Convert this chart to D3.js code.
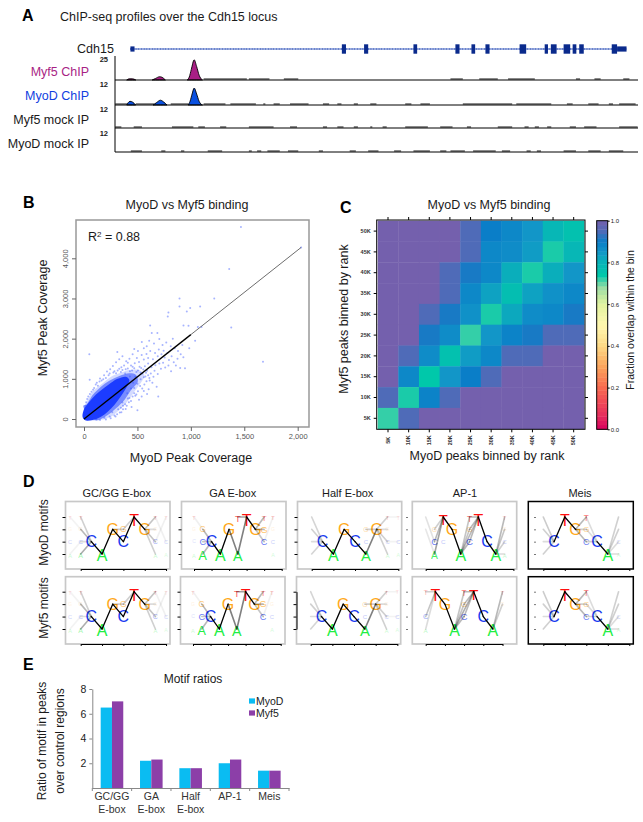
<!DOCTYPE html>
<html><head><meta charset="utf-8">
<script src="https://cdn.jsdelivr.net/npm/d3@7"></script>
<style>html,body{margin:0;padding:0;background:#fff}svg{display:block}text{font-family:"Liberation Sans",Arial,sans-serif;fill:#1a1a1a}</style>
</head><body><svg id="c" width="643" height="822"></svg>
<script>
// ---------- A: locus data (arbitrary locus units)
const locusExons=[[831,841],[885,895],[1005,1014],[1107,1117],[1146,1155],[1180,1190],[1263,1279],[1324,1332],[1339,1353],[1370,1386],[1392,1401],[1408,1419],[1487,1500]];
const locusUtrs=[[317,327],[1500,1523]];
const geneSpan=[317,1523];
const myf5Peaks=[[[308,0],[314,1.2],[322,1.2],[330,0]],[[370,0],[378,1.6],[388,3.4],[394,2.8],[402,0]],[[455,0],[460,3],[465,11],[472,21],[478,14],[484,5],[492,0]]];
const myodPeaks=[[[308,0],[316,2],[322,1.6],[330,0]],[[372,0],[380,1.2],[390,2.6],[398,1.6],[406,0]],[[457,0],[462,2],[467,6],[472,9.2],[478,6],[484,2],[492,0]]];
const noiseMyf5=[[495,600],[605,655],[690,725],[1095,1125],[1165,1210],[1235,1300],[1400,1410],[1445,1460],[1515,1530]];
const noiseMyoD=[[280,315],[330,375],[415,458],[495,548],[560,622],[640,645],[665,680],[705,750],[785,800],[820,830],[860,870],[900,915],[985,1000],[1022,1045],[1125,1245],[1255,1340],[1378,1392],[1430,1455],[1480,1490],[1505,1545]];
const noiseMockMyf5=[[280,295],[325,345],[418,470],[482,498],[535,550],[605,665],[705,722],[785,795],[820,835],[860,870],[900,905],[930,940],[985,1040],[1070,1100],[1135,1145],[1210,1245],[1275,1285],[1300,1310],[1330,1340],[1385,1400],[1420,1450],[1505,1550]];
const noiseMockMyoD=[[318,345],[392,402],[440,448],[505,540],[605,612],[625,635],[650,680],[700,725],[775,785],[850,865],[895,920],[958,975],[1005,1045],[1070,1085],[1095,1130],[1150,1205],[1220,1240],[1280,1290],[1305,1315],[1370,1400],[1430,1460],[1480,1515]];
const trackNames=["Myf5 ChIP","MyoD ChIP","Myf5 mock IP","MyoD mock IP"];
const trackMax=["25","12","12","12"];

// ---------- B: scatter data
const fitLineDark=[[0,0],[1000,2100]];
const fitLineLight=[[1000,2100],[2032,4270]];
const cloudCore=[[-12,40],[-5,207],[44,410],[112,610],[190,775],[253,900],[315,1000],[393,1050],[424,970],[393,763],[347,572],[284,348],[222,182],[159,58],[81,-25],[20,-40]];
const cloudMid=[[-8,330],[19,348],[81,597],[159,804],[237,953],[331,1070],[425,1136],[487,1095],[503,929],[440,721],[378,473],[300,265],[222,99],[112,-30]];
const cloudHalo=[[-5,224],[34,473],[81,680],[175,887],[253,1053],[331,1136],[425,1219],[518,1219],[565,1095],[549,970],[471,680],[393,390],[331,224],[253,58],[159,-20],[50,-20]];
const scatterPts=[[1469,4776],[1359,3731],[2032,4270],[894,3002],[894,2803],[1219,3002],[1087,2803],[994,2761],[962,2678],[790,2653],[784,2554],[1378,2280],[931,2330],[978,2322],[1066,2289],[1675,1426],[50,1609],[53,978],[312,1667],[619,2330],[687,2139],[831,1998],[634,2139],[541,1915],[587,1808],
[470,1740],[505,1690],[560,1760],[610,1950],[655,1880],[705,1990],[735,1840],[770,1905],[812,1810],[850,1760],[880,1690],[905,1610],[930,1540],[875,1500],[820,1560],[780,1640],[745,1700],[700,1730],[665,1640],[620,1690],[585,1620],[540,1590],[495,1520],[455,1610],[425,1500],[395,1440],[360,1560],[330,1490],[300,1410],[270,1320],[245,1240],[215,1180],[188,1090],[150,1010],[120,900],
[440,1330],[475,1390],[515,1420],[560,1480],[600,1520],[645,1490],[690,1560],[725,1610],[755,1530],[795,1470],[840,1410],[900,1270],[945,1265],[860,1330],[790,1330],[740,1400],[705,1380],[668,1340],[632,1290],[600,1380],[570,1310],[535,1270],[590,1200],[625,1130],[660,1200],[690,1120],[720,1250],[650,1050],[612,1020],[585,940],[640,900],[680,800],[695,560],[605,740],[560,700],[525,820],[500,215],[420,420],[455,560],[490,610],[515,480],[445,300],[390,250],[350,170],[310,120],[285,90],[365,330],[410,510],[540,560],[590,620],[470,770],[500,880],[530,990],[480,1050],[575,1060],[545,1130],[505,1210],[470,1265],
[330,1250],[375,1330],[410,1400],[285,1190],[350,1290],[390,1240],[430,1190],[300,1140],[230,1090],[205,1020],[165,960],[130,830],[95,770],[70,680],[40,560],[20,420],[15,330],[60,0],[115,-10],[190,30],[240,60],[265,170],[320,240],[360,410],[405,640],[440,760],[460,900],[430,1060],[385,1130],[345,1170],[1100,2290],[760,1280],[815,1190],[920,1840],[985,1760],[1040,1950],
[275,1160],[240,1130],[180,990],[145,935],[110,860],[85,730],[55,620],[30,500],[12,270],[315,1210],[360,1220],[410,1260],[455,1300],[520,1300],[555,1230],[580,1150],[600,1090],[615,960],[565,860],[545,760],[505,690],[480,580],[440,450],[400,330],[365,240],[335,160],[295,60],[250,20],[205,-15],[150,-25],[450,1210],[490,1170],[530,1150],[560,1040],[470,640],[425,520],[385,370],[345,280]];

// ---------- C: heat-map data
const rankLabels=["5K","10K","15K","20K","25K","30K","35K","40K","45K","50K"];
const overlapRows=[ // top row = 50K, columns = 5K ... 50K
[1,1,1,1,.95,.9,.88,.85,.79,.76],
[1,1,1,1,.95,.88,.87,.84,.73,.79],
[1,1,1,.95,.91,.88,.81,.73,.81,.85],
[1,1,1,.95,.88,.83,.77,.83,.86,.88],
[1,1,.95,.91,.86,.73,.82,.87,.88,.91],
[1,1,.91,.87,.72,.85,.89,.91,.95,.95],
[1,.95,.87,.76,.84,.88,.95,.95,1,1],
[1,.88,.74,.85,.9,.95,1,1,1,1],
[.95,.73,.89,.95,1,1,1,1,1,1],
[.72,.95,1,1,1,1,1,1,1,1]];
const colorDomain=[0,.06,.13,.2,.3,.4,.5,.6,.68,.74,.8,.85,.9,.95,1];
const colorRange=["#d6005f","#e52b5e","#f04a58","#f86a50","#fca45c","#fed985","#fff8b0","#e2f3a0","#9bdca4","#00c8aa","#08b4b8","#1296c8","#0a7ec8","#4f6bb8","#7460ad"];
const colorTicks=[0,.2,.4,.6,.8,1];

// ---------- D: motif data: [position, base, weight]
const gcLetters=[[-1,"T",.06],[-1,"G",.03],[-1,"C",.1],[-1,"A",.1],[0,"T",.12],[0,"G",.08],[0,"C",.15],[0,"A",.22],[1,"C",1],[2,"A",1],[3,"G",1],[4,"C",1],[4,"G",.35],[5,"T",1],[6,"G",1],[7,"T",.14],[7,"G",.05],[7,"C",.22],[7,"A",.12],[8,"T",.06],[8,"C",.1],[8,"A",.06]];
const gcEdges=[[1,"C",2,"A",1],[2,"A",3,"G",1],[3,"G",4,"C",1],[4,"C",5,"T",.7],[5,"T",6,"G",1],[0,"T",1,"C",.2],[0,"G",1,"C",.3],[0,"C",1,"C",.15],[0,"A",1,"C",.35],[-1,"T",0,"G",.05],[-1,"A",0,"C",.05],[3,"G",4,"G",.2],[4,"G",5,"T",.2],[6,"G",7,"T",.25],[6,"G",7,"G",.15],[6,"G",7,"C",.25],[6,"G",7,"A",.2],[7,"C",8,"T",.06],[7,"T",8,"C",.06]];
const gaLetters=[[0,"T",.1],[0,"G",.04],[0,"C",.05],[0,"A",.1],[1,"G",.32],[1,"C",.4],[1,"A",.7],[2,"C",1],[3,"A",1],[4,"G",1],[5,"T",.42],[5,"A",.85],[6,"T",1],[7,"G",1],[8,"T",.3],[8,"G",.4],[8,"C",.4],[9,"T",.15],[9,"G",.05],[9,"C",.12],[9,"A",.08]];
const gaEdges=[[2,"C",3,"A",1],[3,"A",4,"G",1],[4,"G",5,"A",.55],[5,"A",6,"T",.55],[5,"T",6,"T",.4],[6,"T",7,"G",1],[1,"G",2,"C",.3],[1,"C",2,"C",.25],[1,"A",2,"C",.3],[7,"G",8,"T",.3],[7,"G",8,"G",.3],[7,"G",8,"C",.25],[0,"T",1,"G",.06],[8,"C",9,"T",.06]];
const halfLetters=[[1,"C",1],[2,"A",1],[3,"G",1],[4,"C",1],[5,"A",.9],[5,"C",.14],[5,"G",.2],[6,"G",1],[7,"T",.1],[7,"G",.06],[7,"C",.12],[7,"A",.1],[8,"T",.05],[8,"C",.12],[8,"A",.07]];
const halfEdges=[[1,"C",2,"A",1],[2,"A",3,"G",1],[3,"G",4,"C",1],[4,"C",5,"A",1],[5,"A",6,"G",.55],[5,"G",6,"G",.2],[0,"T",1,"C",.18],[0,"G",1,"C",.2],[0,"C",1,"C",.15],[0,"A",1,"C",.18],[6,"G",7,"T",.2],[6,"G",7,"G",.15],[6,"G",7,"C",.2],[6,"G",7,"A",.2],[7,"T",8,"T",.05],[7,"C",8,"C",.05]];
const ap1LettersD=[[1,"G",.2],[1,"C",.4],[1,"A",.5],[2,"T",.9],[2,"C",.15],[3,"G",1],[4,"A",1],[5,"T",.35],[5,"G",.3],[5,"C",.45],[6,"T",1],[7,"C",1],[8,"A",1],[9,"T",.12],[9,"G",.08],[9,"C",.12],[9,"A",.12]];
const ap1EdgesD=[[2,"T",3,"G",1],[3,"G",4,"A",1],[4,"A",5,"T",.25],[4,"A",5,"G",.25],[4,"A",5,"C",.3],[5,"T",6,"T",.3],[5,"G",6,"T",.3],[5,"C",6,"T",.3],[4,"A",6,"T",.3],[6,"T",7,"C",.8],[7,"C",8,"A",1],[1,"A",2,"T",.4],[1,"C",2,"T",.3],[1,"G",2,"T",.2],[0,"T",1,"C",.12],[0,"G",1,"A",.1],[8,"A",9,"T",.3],[8,"A",9,"G",.25],[8,"A",9,"C",.2],[8,"A",9,"A",.15]];
const ap1LettersF=[[0,"T",.18],[0,"C",.25],[0,"A",.15],[1,"T",1],[2,"G",1],[3,"A",1],[4,"T",.32],[4,"G",.3],[4,"C",.42],[5,"T",.95],[6,"C",1],[7,"A",1],[8,"T",.12],[8,"G",.05]];
const ap1EdgesF=[[1,"T",2,"G",1],[2,"G",3,"A",1],[3,"A",4,"T",.25],[3,"A",4,"G",.25],[3,"A",4,"C",.3],[4,"T",5,"T",.3],[4,"G",5,"T",.3],[4,"C",5,"T",.3],[3,"A",5,"T",.35],[5,"T",6,"C",.85],[6,"C",7,"A",1],[0,"T",1,"T",.2],[0,"C",1,"T",.25],[0,"A",1,"T",.15],[7,"A",8,"T",.3],[7,"A",8,"G",.2]];
const meisLetters=[[1,"C",1],[2,"T",1],[3,"G",1],[4,"T",.32],[4,"G",.3],[4,"C",.38],[5,"C",1],[6,"A",1],[7,"C",.1],[7,"A",.08]];
const meisEdges=[[1,"C",2,"T",1],[2,"T",3,"G",1],[3,"G",4,"T",.3],[3,"G",4,"G",.2],[3,"G",4,"C",.3],[4,"T",5,"C",.15],[4,"G",5,"C",.15],[4,"C",5,"C",.2],[5,"C",6,"A",1],[0,"T",1,"C",.22],[0,"G",1,"C",.2],[0,"C",1,"C",.15],[0,"A",1,"C",.2],[6,"A",7,"T",.2],[6,"A",7,"G",.2],[6,"A",7,"C",.15],[6,"A",7,"A",.15]];
const motifTitles=["GC/GG E-box","GA E-box","Half E-box","AP-1","Meis"];
const rowLabels=["MyoD motifs","Myf5 motifs"];
const bases=["A","C","G","T"];
const baseColors=["#22ee44","#1a3cf0","#ffa91c","#ff1010"];

// ---------- E: bar data
const ratioCategories=[["GC/GG","E-box"],["GA","E-box"],["Half","E-box"],["AP-1"],["Meis"]];
const ratioMyoD=[6.5,2.2,1.6,2.0,1.4];
const ratioMyf5=[7.0,2.3,1.6,2.3,1.4];
const ratioTicks=[2,4,6,8];

// ---------- drawing
const svg=d3.select("#c");
function txt(g,x,y,s,size,o={}){const t=g.append("text").attr("x",x).attr("y",y).attr("font-size",size).text(s);
  if(o.anchor)t.attr("text-anchor",o.anchor);if(o.bold)t.attr("font-weight","bold");if(o.fill)t.style("fill",o.fill);
  if(o.rot!==undefined)t.attr("transform",`rotate(${o.rot} ${x} ${y})`);return t;}
[["A",22,21],["B",23,208],["C",340,213],["D",23,487],["E",23,670]].forEach(d=>txt(svg,d[1],d[2],d[0],16,{bold:true,fill:"#000"}));

// A
const loc=d3.scaleLinear([0,1563],[0,643]);
txt(svg,60,21,"ChIP-seq profiles over the Cdh15 locus",12.5);
txt(svg,77,53,"Cdh15",12.5);
const gY=49;
svg.append("line").attr("x1",loc(geneSpan[0])).attr("x2",loc(geneSpan[1])).attr("y1",gY).attr("y2",gY).attr("stroke","#3a5cc0").attr("stroke-width",1);
svg.append("line").attr("x1",loc(geneSpan[0])).attr("x2",loc(geneSpan[1])).attr("y1",gY).attr("y2",gY).attr("stroke","#3a5ab8").attr("stroke-width",2.2).attr("stroke-dasharray","0.5 2.2");
svg.selectAll(".ex").data(locusExons).join("rect").attr("x",d=>loc(d[0])).attr("width",d=>loc(d[1])-loc(d[0])).attr("y",gY-4.7).attr("height",9.4).attr("fill","#0a2a8c");
svg.selectAll(".ut").data(locusUtrs).join("rect").attr("x",d=>loc(d[0])).attr("width",d=>loc(d[1])-loc(d[0])).attr("y",gY-2.6).attr("height",5.2).attr("fill","#0a2a8c");
const trackBase=[80,105,128,152], trackPx=[.96,1.84,1.84,1.84];
const trackFill=["#a81f85","#0a50e0"], nameColors=["#a81f85","#1040e0","#1a1a1a","#1a1a1a"];
const nameY=[76,100,124,148], maxY=[62,87,112,136];
[noiseMyf5,noiseMyoD,noiseMockMyf5,noiseMockMyoD].forEach((n,i)=>{
  svg.append("g").selectAll("rect").data(n).join("rect").attr("x",d=>loc(d[0])).attr("width",d=>loc(d[1])-loc(d[0])).attr("y",trackBase[i]-2).attr("height",2).attr("fill","#8a8a8a");
  txt(svg,89,nameY[i],trackNames[i],12.5,{anchor:"end",fill:nameColors[i]});
  txt(svg,108,maxY[i],trackMax[i],7.5,{anchor:"end",bold:true});
});
[myf5Peaks,myodPeaks].forEach((ps,i)=>{
  const y=d3.scaleLinear([0,1],[trackBase[i],trackBase[i]-trackPx[i]]);
  const area=d3.area().x(d=>loc(d[0])).y0(trackBase[i]).y1(d=>y(d[1])).curve(d3.curveMonotoneX);
  svg.append("g").selectAll("path").data(ps).join("path").attr("d",area).attr("fill",trackFill[i]).attr("stroke","#000").attr("stroke-width",.9);
});
trackBase.forEach(b=>svg.append("line").attr("x1",115).attr("x2",638).attr("y1",b).attr("y2",b).attr("stroke","#000").attr("stroke-width",1));
svg.append("line").attr("x1",115).attr("x2",115).attr("y1",56).attr("y2",152).attr("stroke","#000");

// B
const bx=d3.scaleLinear([0,2000],[84,297.7]), by=d3.scaleLinear([0,4000],[419,258.3]);
const bg=svg.append("g");
bg.append("rect").attr("x",76).attr("y",220).attr("width",233).attr("height",207).attr("fill","#fff").attr("stroke","#999").attr("stroke-width",1.5);
const poly=d3.line().x(d=>bx(d[0])).y(d=>by(d[1])).curve(d3.curveCatmullRomClosed);
bg.append("path").attr("d",poly(cloudHalo)).attr("fill","#3c5cff").attr("opacity",.22);
bg.selectAll("circle").data(scatterPts).join("circle").attr("cx",d=>bx(d[0])).attr("cy",d=>by(d[1])).attr("r",1).attr("fill","#3c58ff").attr("opacity",.45);
bg.append("path").attr("d",poly(cloudMid)).attr("fill","#2a48ff").attr("opacity",.55);
bg.append("path").attr("d",poly(cloudCore)).attr("fill","#1c3cff");
const fit=d3.line().x(d=>bx(d[0])).y(d=>by(d[1]));
bg.append("path").attr("d",fit(fitLineLight)).attr("stroke","#333").attr("stroke-width",.9).attr("opacity",.8).attr("fill","none");
bg.append("path").attr("d",fit(fitLineDark)).attr("stroke","#000").attr("stroke-width",1.3).attr("fill","none");
const bxa=svg.append("g").attr("transform","translate(0,427)").call(d3.axisBottom(bx).tickValues([0,500,1000,1500,2000]).tickFormat(d3.format(",")).tickSize(4));
const bya=svg.append("g").attr("transform","translate(76,0)").call(d3.axisLeft(by).tickValues([0,1000,2000,3000,4000]).tickFormat(d3.format(",")).tickSize(4));
[bxa,bya].forEach(a=>{a.select(".domain").remove();a.selectAll("line").attr("stroke","#666");a.selectAll("text").attr("font-size",7.5).style("fill","#555");});
bya.selectAll("text").attr("transform","rotate(-90)").attr("x",0).attr("y",-8).attr("dy",0).attr("text-anchor","middle");
txt(svg,187,209,"MyoD vs Myf5 binding",12.5,{anchor:"middle"});
txt(svg,191,462,"MyoD Peak Coverage",12.5,{anchor:"middle"});
txt(svg,47,318,"Myf5 Peak Coverage",12.5,{anchor:"middle",rot:-90});
const r2=txt(svg,88,241,"R",12.5);r2.append("tspan").attr("font-size",8).attr("dy",-4).text("2");r2.append("tspan").attr("dy",4).text(" = 0.88");

// C
const color=d3.scaleLinear(colorDomain,colorRange);
const hx=d3.scaleBand(rankLabels,[377.7,584]), hy=d3.scaleBand(rankLabels.slice().reverse(),[220.7,428.7]);
const hg=svg.append("g");
const heatCells=overlapRows.flatMap((r,i)=>r.map((v,j)=>({v,col:rankLabels[j],row:rankLabels[9-i]})));
hg.selectAll("rect").data(heatCells).join("rect").attr("x",d=>hx(d.col)).attr("y",d=>hy(d.row)).attr("width",hx.bandwidth()+.4).attr("height",hy.bandwidth()+.4).attr("fill",d=>color(d.v));
hg.append("rect").attr("x",376.7).attr("y",220).attr("width",208.3).attr("height",209.3).attr("fill","none").attr("stroke","#000").attr("stroke-width",1);
const styleC=a=>{a.select(".domain").remove();a.selectAll("line").attr("stroke","#000");a.selectAll("text").attr("font-size",5.5).attr("font-weight","bold").style("fill","#333");};
const cb=svg.append("g").attr("transform","translate(0,429.3)").call(d3.axisBottom(hx).tickSize(3));styleC(cb);
cb.selectAll("text").attr("transform","rotate(-90)").attr("x",-11).attr("y",0).attr("dy","0.32em").attr("text-anchor","middle");
const ct=svg.append("g").attr("transform","translate(0,220)").call(d3.axisTop(hx).tickSize(3).tickFormat(""));styleC(ct);
const cl=svg.append("g").attr("transform","translate(376.7,0)").call(d3.axisLeft(hy).tickSize(3));styleC(cl);
cl.selectAll("text").attr("x",-6);
const cr=svg.append("g").attr("transform","translate(585,0)").call(d3.axisRight(hy).tickSize(3).tickFormat(""));styleC(cr);
txt(svg,489,209,"MyoD vs Myf5 binding",12.5,{anchor:"middle"});
txt(svg,487,460,"MyoD peaks binned by rank",12.5,{anchor:"middle"});
txt(svg,348,319,"Myf5 peaks binned by rank",12.5,{anchor:"middle",rot:-90});
txt(svg,634,320,"Fraction overlap within the bin",10.5,{anchor:"middle",rot:-90});
const barY=d3.scaleLinear([0,1],[429.3,220.7]);
const steps=d3.range(0,1,1/48);
svg.append("g").selectAll("rect").data(steps).join("rect").attr("x",596.7).attr("width",11).attr("y",d=>barY(d+1/48)).attr("height",d=>barY(d)-barY(d+1/48)+.4).attr("fill",d=>color(d+1/96));
svg.append("rect").attr("x",596.7).attr("y",220.7).attr("width",11).attr("height",208.6).attr("fill","none").attr("stroke","#000");
const cax=svg.append("g").attr("transform","translate(607.7,0)").call(d3.axisRight(barY).tickValues(colorTicks).tickFormat(d3.format(".1f")).tickSize(2));
cax.select(".domain").remove();cax.selectAll("text").attr("font-size",6).attr("x",3);

// D
const baseColor=d3.scaleOrdinal(bases,baseColors);
const cols=[{l:65.5,r:170,t0:80.7,s:10.67,n:4,ax:65.5,frame:"#c8c8c8"},{l:181.5,r:286,t0:194,s:8.77,n:5,ax:181.5,frame:"#c8c8c8"},{l:297.5,r:401.7,t0:311.7,s:10.83,n:4,ax:297.5,frame:"#c8c8c8"},{l:412.3,r:516.7,t0:425.7,s:8.77,n:5,ax:408,frame:"#c8c8c8"},{l:528.3,r:633.3,t0:543.3,s:10.75,n:4,ax:536,frame:"#000"}];
const rowsD=[{top:501.5,bottom:569,T:517,A:554},{top:576.7,bottom:644,T:591.7,A:629}];
const motifSets=[[[gcLetters,gcEdges],[gaLetters,gaEdges],[halfLetters,halfEdges],[ap1LettersD,ap1EdgesD],[meisLetters,meisEdges]],
                 [[gcLetters,gcEdges],[gaLetters,gaEdges],[halfLetters,halfEdges],[ap1LettersF,ap1EdgesF],[meisLetters,meisEdges]]];
rowsD.forEach((row,ri)=>cols.forEach((c,ci)=>{
  const g=svg.append("g");
  const shift=(ri===1&&(ci===1||ci===2))?-1:0;
  const step=(ri===1&&ci===3)?9.6:c.s, nT=(ri===1&&ci===3)?4:c.n;
  const px=d3.scaleLinear([0,2*nT],[c.t0+shift,c.t0+shift+2*nT*step]);
  const py=d3.scalePoint(bases,[row.A,row.T]);
  g.append("rect").attr("x",c.l+shift).attr("y",row.top).attr("width",c.r-c.l).attr("height",row.bottom-row.top).attr("fill","#fff").attr("stroke",c.frame).attr("stroke-width",ci===4?1.5:1.7);
  const [letters,edges]=motifSets[ri][ci];
  g.append("g").selectAll("text").data(letters).join("text").attr("x",d=>px(d[0])).attr("y",d=>py(d[1])+(d[1]==="A"?1.5:0)).attr("text-anchor","middle").attr("dy",d=>d[1]==="T"?"0.55em":"0.36em")
    .attr("font-size",d=>4.5+11.5*d[2]).style("fill",d=>baseColor(d[1])).attr("opacity",d=>Math.min(1,.08+d[2]*1.5)).text(d=>d[1]);
  g.append("g").selectAll("line").data(edges).join("line").attr("x1",d=>px(d[0])).attr("y1",d=>py(d[1])).attr("x2",d=>px(d[2])).attr("y2",d=>py(d[3]))
    .attr("stroke","#000").attr("stroke-width",d=>d[4]>.6?1.3:1.6).attr("opacity",d=>d[4]>.6?1:d[4]*.9).attr("stroke-linecap","round");
  const tv=d3.range(0,nT+1).map(k=>k*2);
  const ba=g.append("g").attr("transform",`translate(0,${row.bottom})`).call(d3.axisBottom(px).tickValues(tv).tickSize(2).tickSizeOuter(0).tickFormat(""));
  ba.selectAll("path,line").attr("stroke","#000");
  const dark=(ci<3);
  const la=g.append("g").attr("transform",`translate(${c.ax+shift},0)`).call(d3.axisLeft(py).tickSize(dark?3:2).tickSizeOuter(0).tickPadding(1).tickFormat(""));
  la.selectAll("line").attr("stroke",dark?"#000":"#777");
  la.select(".domain").attr("stroke",(ri===1&&ci===2)?"#000":"none");
}));
motifTitles.forEach((t,i)=>txt(svg,[116.7,232.7,347.7,465,580][i],497,t,11,{anchor:"middle"}));
rowLabels.forEach((t,i)=>txt(svg,48,[532.5,608][i],t,12,{anchor:"middle",rot:-90}));

// E
const ex=d3.scaleBand(d3.range(ratioCategories.length),[92.3,289]).paddingInner(.426).paddingOuter(.213);
const ey=d3.scaleLinear([0,8],[788,689]);
const eg=svg.append("g");
eg.selectAll(".m").data(ratioMyoD).join("rect").attr("x",(d,i)=>ex(i)).attr("width",ex.bandwidth()/2).attr("y",d=>ey(d)).attr("height",d=>ey(0)-ey(d)).attr("fill","#0abcf2");
eg.selectAll(".f").data(ratioMyf5).join("rect").attr("x",(d,i)=>ex(i)+ex.bandwidth()/2).attr("width",ex.bandwidth()/2).attr("y",d=>ey(d)).attr("height",d=>ey(0)-ey(d)).attr("fill","#8c3fa8");
const exa=svg.append("g").attr("transform","translate(0,788)").call(d3.axisBottom(d3.scaleBand(d3.range(5),[92.3,289])).tickSize(0).tickFormat(""));
exa.selectAll("path").attr("stroke","#888");
svg.append("g").selectAll("line").data(d3.range(6)).join("line").attr("x1",i=>92.3+i*39.34).attr("x2",i=>92.3+i*39.34).attr("y1",788).attr("y2",791).attr("stroke","#888");
const eya=svg.append("g").attr("transform","translate(92.3,0)").call(d3.axisLeft(ey).tickValues(ratioTicks).tickSize(3).tickSizeOuter(0).tickFormat(d3.format("d")));
eya.selectAll("path,line").attr("stroke","#888");eya.selectAll("text").attr("font-size",10.5).style("fill","#222");
ratioCategories.forEach((c,i)=>c.forEach((s,k)=>txt(svg,ex(i)+ex.bandwidth()/2,800+k*13,s,10.5,{anchor:"middle",fill:"#333"})));
txt(svg,193,683,"Motif ratios",12,{anchor:"middle"});
txt(svg,46,741,"Ratio of motif in peaks",12,{anchor:"middle",rot:-90});
txt(svg,64,741,"over control regions",12,{anchor:"middle",rot:-90});
[["MyoD","#0abcf2",701],["Myf5","#8c3fa8",713]].forEach(d=>{svg.append("rect").attr("x",249).attr("y",d[2]-2.6).attr("width",6).attr("height",5.2).attr("fill",d[1]);txt(svg,256,d[2]+3.5,d[0],10.5);});
</script></body></html>
